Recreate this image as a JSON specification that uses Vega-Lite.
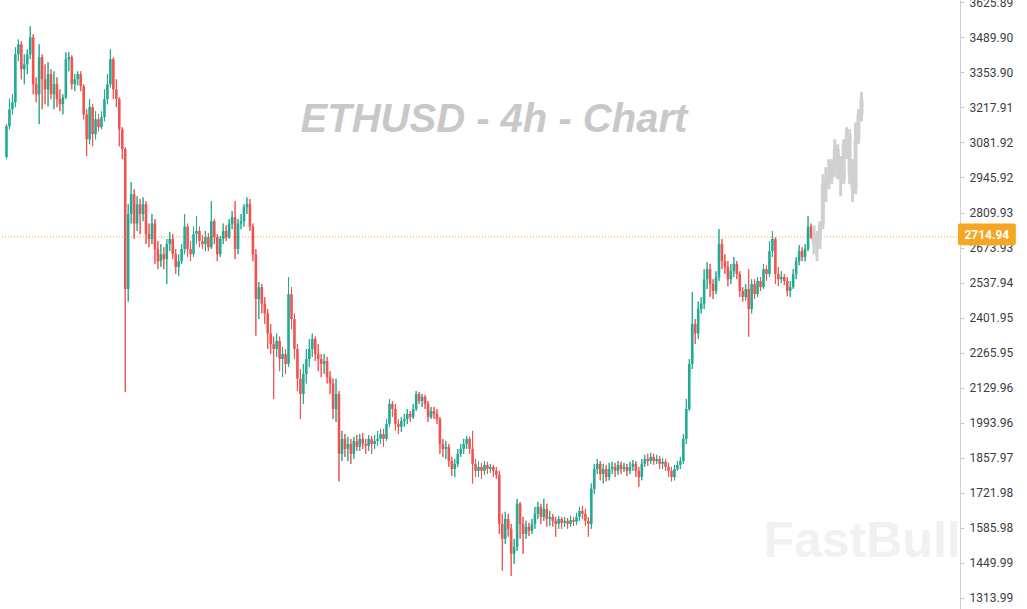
{
  "$schema": "https://vega.github.io/schema/vega-lite/v6.json",
  "width": 960,
  "height": 609,
  "autosize": {"type": "none"},
  "padding": {"left": 0, "top": 0, "right": 67, "bottom": 0},
  "background": "#ffffff",
  "config": {"view": {"stroke": null}},
  "resolve": {"axis": {"x": "independent", "y": "independent"}},
  "datasets": {
    "real": [
      {"t":0,"o":3025,"h":3153,"l":3017,"c":3145},{"t":1,"o":3145,"h":3250,"l":3133,"c":3211},{"t":2,"o":3211,"h":3269,"l":3191,"c":3238},{"t":3,"o":3238,"h":3451,"l":3219,"c":3424},{"t":4,"o":3424,"h":3482,"l":3397,"c":3463},{"t":5,"o":3463,"h":3475,"l":3327,"c":3366},{"t":6,"o":3366,"h":3424,"l":3308,"c":3385},{"t":7,"o":3385,"h":3444,"l":3347,"c":3424},{"t":8,"o":3424,"h":3533,"l":3405,"c":3490},{"t":9,"o":3490,"h":3502,"l":3269,"c":3308},
      {"t":10,"o":3308,"h":3335,"l":3238,"c":3269},{"t":11,"o":3269,"h":3463,"l":3153,"c":3413},{"t":12,"o":3413,"h":3424,"l":3211,"c":3327},{"t":13,"o":3327,"h":3385,"l":3230,"c":3288},{"t":14,"o":3288,"h":3393,"l":3222,"c":3347},{"t":15,"o":3347,"h":3366,"l":3250,"c":3269},{"t":16,"o":3269,"h":3358,"l":3211,"c":3308},{"t":17,"o":3308,"h":3335,"l":3219,"c":3250},{"t":18,"o":3250,"h":3288,"l":3203,"c":3230},{"t":19,"o":3230,"h":3269,"l":3191,"c":3257},
      {"t":20,"o":3257,"h":3432,"l":3250,"c":3405},{"t":21,"o":3405,"h":3432,"l":3358,"c":3413},{"t":22,"o":3413,"h":3420,"l":3288,"c":3308},{"t":23,"o":3308,"h":3347,"l":3281,"c":3327},{"t":24,"o":3327,"h":3358,"l":3304,"c":3347},{"t":25,"o":3347,"h":3358,"l":3281,"c":3300},{"t":26,"o":3300,"h":3308,"l":3172,"c":3191},{"t":27,"o":3191,"h":3211,"l":3029,"c":3094},{"t":28,"o":3094,"h":3250,"l":3075,"c":3219},{"t":29,"o":3219,"h":3230,"l":3067,"c":3114},
      {"t":30,"o":3114,"h":3203,"l":3094,"c":3172},{"t":31,"o":3172,"h":3191,"l":3125,"c":3141},{"t":32,"o":3141,"h":3203,"l":3133,"c":3180},{"t":33,"o":3180,"h":3288,"l":3164,"c":3250},{"t":34,"o":3250,"h":3347,"l":3230,"c":3308},{"t":35,"o":3308,"h":3444,"l":3296,"c":3405},{"t":36,"o":3405,"h":3413,"l":3250,"c":3288},{"t":37,"o":3288,"h":3327,"l":3219,"c":3250},{"t":38,"o":3250,"h":3257,"l":3067,"c":3133},{"t":39,"o":3133,"h":3141,"l":3017,"c":3056},
      {"t":40,"o":3056,"h":3063,"l":2113,"c":2513},{"t":41,"o":2513,"h":2842,"l":2464,"c":2804},{"t":42,"o":2804,"h":2928,"l":2767,"c":2881},{"t":43,"o":2881,"h":2900,"l":2707,"c":2767},{"t":44,"o":2767,"h":2873,"l":2738,"c":2842},{"t":45,"o":2842,"h":2862,"l":2726,"c":2804},{"t":46,"o":2804,"h":2869,"l":2776,"c":2842},{"t":47,"o":2842,"h":2854,"l":2687,"c":2726},{"t":48,"o":2726,"h":2767,"l":2675,"c":2707},{"t":49,"o":2707,"h":2804,"l":2687,"c":2767},
      {"t":50,"o":2767,"h":2784,"l":2610,"c":2668},{"t":51,"o":2668,"h":2699,"l":2590,"c":2621},{"t":52,"o":2621,"h":2687,"l":2598,"c":2648},{"t":53,"o":2648,"h":2675,"l":2590,"c":2629},{"t":54,"o":2629,"h":2707,"l":2532,"c":2687},{"t":55,"o":2687,"h":2734,"l":2660,"c":2707},{"t":56,"o":2707,"h":2726,"l":2629,"c":2648},{"t":57,"o":2648,"h":2668,"l":2571,"c":2598},{"t":58,"o":2598,"h":2648,"l":2563,"c":2621},{"t":59,"o":2621,"h":2687,"l":2610,"c":2668},
      {"t":60,"o":2668,"h":2804,"l":2648,"c":2755},{"t":61,"o":2755,"h":2767,"l":2637,"c":2668},{"t":62,"o":2668,"h":2699,"l":2621,"c":2648},{"t":63,"o":2648,"h":2755,"l":2637,"c":2726},{"t":64,"o":2726,"h":2796,"l":2687,"c":2738},{"t":65,"o":2738,"h":2755,"l":2675,"c":2699},{"t":66,"o":2699,"h":2722,"l":2668,"c":2687},{"t":67,"o":2687,"h":2738,"l":2660,"c":2714},{"t":68,"o":2714,"h":2730,"l":2660,"c":2675},{"t":69,"o":2675,"h":2854,"l":2668,"c":2776},
      {"t":70,"o":2776,"h":2784,"l":2687,"c":2714},{"t":71,"o":2714,"h":2726,"l":2621,"c":2648},{"t":72,"o":2648,"h":2718,"l":2637,"c":2707},{"t":73,"o":2707,"h":2767,"l":2687,"c":2738},{"t":74,"o":2738,"h":2760,"l":2699,"c":2714},{"t":75,"o":2714,"h":2784,"l":2707,"c":2767},{"t":76,"o":2767,"h":2815,"l":2745,"c":2792},{"t":77,"o":2792,"h":2854,"l":2629,"c":2668},{"t":78,"o":2668,"h":2784,"l":2648,"c":2767},{"t":79,"o":2767,"h":2804,"l":2745,"c":2776},
      {"t":80,"o":2776,"h":2842,"l":2755,"c":2831},{"t":81,"o":2831,"h":2869,"l":2804,"c":2842},{"t":82,"o":2842,"h":2862,"l":2738,"c":2755},{"t":83,"o":2755,"h":2767,"l":2621,"c":2648},{"t":84,"o":2648,"h":2668,"l":2332,"c":2474},{"t":85,"o":2474,"h":2540,"l":2396,"c":2520},{"t":86,"o":2520,"h":2532,"l":2418,"c":2456},{"t":87,"o":2456,"h":2482,"l":2377,"c":2418},{"t":88,"o":2418,"h":2435,"l":2280,"c":2340},{"t":89,"o":2340,"h":2377,"l":2260,"c":2299},
      {"t":90,"o":2299,"h":2328,"l":2086,"c":2280},{"t":91,"o":2280,"h":2340,"l":2249,"c":2311},{"t":92,"o":2311,"h":2328,"l":2194,"c":2241},{"t":93,"o":2241,"h":2288,"l":2171,"c":2260},{"t":94,"o":2260,"h":2280,"l":2183,"c":2222},{"t":95,"o":2222,"h":2559,"l":2210,"c":2493},{"t":96,"o":2493,"h":2520,"l":2357,"c":2396},{"t":97,"o":2396,"h":2418,"l":2241,"c":2280},{"t":98,"o":2280,"h":2299,"l":2117,"c":2165},{"t":99,"o":2165,"h":2202,"l":2008,"c":2105},
      {"t":100,"o":2105,"h":2222,"l":2067,"c":2183},{"t":101,"o":2183,"h":2280,"l":2146,"c":2241},{"t":102,"o":2241,"h":2319,"l":2210,"c":2280},{"t":103,"o":2280,"h":2340,"l":2249,"c":2319},{"t":104,"o":2319,"h":2328,"l":2233,"c":2260},{"t":105,"o":2260,"h":2299,"l":2194,"c":2241},{"t":106,"o":2241,"h":2260,"l":2171,"c":2222},{"t":107,"o":2222,"h":2260,"l":2183,"c":2233},{"t":108,"o":2233,"h":2249,"l":2146,"c":2171},{"t":109,"o":2171,"h":2194,"l":2105,"c":2146},
      {"t":110,"o":2146,"h":2165,"l":2008,"c":2047},{"t":111,"o":2047,"h":2165,"l":1997,"c":2105},{"t":112,"o":2105,"h":2117,"l":1766,"c":1873},{"t":113,"o":1873,"h":1962,"l":1845,"c":1931},{"t":114,"o":1931,"h":1950,"l":1861,"c":1892},{"t":115,"o":1892,"h":1939,"l":1845,"c":1911},{"t":116,"o":1911,"h":1931,"l":1834,"c":1873},{"t":117,"o":1873,"h":1939,"l":1853,"c":1923},{"t":118,"o":1923,"h":1946,"l":1884,"c":1900},{"t":119,"o":1900,"h":1950,"l":1884,"c":1931},
      {"t":120,"o":1931,"h":1954,"l":1892,"c":1911},{"t":121,"o":1911,"h":1931,"l":1873,"c":1904},{"t":122,"o":1904,"h":1946,"l":1884,"c":1931},{"t":123,"o":1931,"h":1942,"l":1873,"c":1911},{"t":124,"o":1911,"h":1946,"l":1892,"c":1923},{"t":125,"o":1923,"h":1962,"l":1904,"c":1931},{"t":126,"o":1931,"h":1970,"l":1911,"c":1950},{"t":127,"o":1950,"h":1970,"l":1900,"c":1931},{"t":128,"o":1931,"h":2008,"l":1923,"c":1989},{"t":129,"o":1989,"h":2086,"l":1978,"c":2067},
      {"t":130,"o":2067,"h":2078,"l":2016,"c":2047},{"t":131,"o":2047,"h":2067,"l":1962,"c":1989},{"t":132,"o":1989,"h":2008,"l":1950,"c":1978},{"t":133,"o":1978,"h":2016,"l":1958,"c":2001},{"t":134,"o":2001,"h":2028,"l":1978,"c":2008},{"t":135,"o":2008,"h":2047,"l":1989,"c":2028},{"t":136,"o":2028,"h":2039,"l":1997,"c":2016},{"t":137,"o":2016,"h":2067,"l":2008,"c":2047},{"t":138,"o":2047,"h":2117,"l":2039,"c":2105},{"t":139,"o":2105,"h":2113,"l":2067,"c":2078},
      {"t":140,"o":2078,"h":2105,"l":2055,"c":2094},{"t":141,"o":2094,"h":2102,"l":2047,"c":2067},{"t":142,"o":2067,"h":2078,"l":1997,"c":2016},{"t":143,"o":2016,"h":2055,"l":2008,"c":2039},{"t":144,"o":2039,"h":2055,"l":2008,"c":2028},{"t":145,"o":2028,"h":2047,"l":1989,"c":2008},{"t":146,"o":2008,"h":2016,"l":1873,"c":1911},{"t":147,"o":1911,"h":1931,"l":1861,"c":1892},{"t":148,"o":1892,"h":1923,"l":1853,"c":1900},{"t":149,"o":1900,"h":1911,"l":1822,"c":1845},
      {"t":150,"o":1845,"h":1861,"l":1787,"c":1814},{"t":151,"o":1814,"h":1853,"l":1783,"c":1834},{"t":152,"o":1834,"h":1892,"l":1822,"c":1873},{"t":153,"o":1873,"h":1911,"l":1861,"c":1892},{"t":154,"o":1892,"h":1931,"l":1873,"c":1911},{"t":155,"o":1911,"h":1942,"l":1892,"c":1931},{"t":156,"o":1931,"h":1939,"l":1873,"c":1892},{"t":157,"o":1892,"h":1962,"l":1758,"c":1834},{"t":158,"o":1834,"h":1853,"l":1783,"c":1807},{"t":159,"o":1807,"h":1845,"l":1783,"c":1822},
      {"t":160,"o":1822,"h":1838,"l":1776,"c":1807},{"t":161,"o":1807,"h":1845,"l":1791,"c":1830},{"t":162,"o":1830,"h":1842,"l":1795,"c":1814},{"t":163,"o":1814,"h":1834,"l":1799,"c":1822},{"t":164,"o":1822,"h":1830,"l":1783,"c":1807},{"t":165,"o":1807,"h":1822,"l":1776,"c":1791},{"t":166,"o":1791,"h":1807,"l":1562,"c":1601},{"t":167,"o":1601,"h":1640,"l":1419,"c":1543},{"t":168,"o":1543,"h":1648,"l":1523,"c":1620},{"t":169,"o":1620,"h":1640,"l":1551,"c":1582},
      {"t":170,"o":1582,"h":1601,"l":1399,"c":1485},{"t":171,"o":1485,"h":1543,"l":1446,"c":1512},{"t":172,"o":1512,"h":1698,"l":1496,"c":1679},{"t":173,"o":1679,"h":1686,"l":1543,"c":1601},{"t":174,"o":1601,"h":1628,"l":1485,"c":1562},{"t":175,"o":1562,"h":1613,"l":1543,"c":1590},{"t":176,"o":1590,"h":1605,"l":1554,"c":1574},{"t":177,"o":1574,"h":1620,"l":1562,"c":1601},{"t":178,"o":1601,"h":1667,"l":1582,"c":1640},{"t":179,"o":1640,"h":1686,"l":1620,"c":1667},
      {"t":180,"o":1667,"h":1679,"l":1601,"c":1628},{"t":181,"o":1628,"h":1698,"l":1613,"c":1659},{"t":182,"o":1659,"h":1679,"l":1590,"c":1620},{"t":183,"o":1620,"h":1651,"l":1593,"c":1628},{"t":184,"o":1628,"h":1640,"l":1590,"c":1613},{"t":185,"o":1613,"h":1628,"l":1551,"c":1601},{"t":186,"o":1601,"h":1632,"l":1582,"c":1620},{"t":187,"o":1620,"h":1628,"l":1582,"c":1605},{"t":188,"o":1605,"h":1628,"l":1590,"c":1613},{"t":189,"o":1613,"h":1624,"l":1582,"c":1601},
      {"t":190,"o":1601,"h":1632,"l":1590,"c":1616},{"t":191,"o":1616,"h":1628,"l":1593,"c":1609},{"t":192,"o":1609,"h":1644,"l":1597,"c":1628},{"t":193,"o":1628,"h":1667,"l":1613,"c":1651},{"t":194,"o":1651,"h":1671,"l":1620,"c":1640},{"t":195,"o":1640,"h":1659,"l":1593,"c":1613},{"t":196,"o":1613,"h":1628,"l":1551,"c":1601},{"t":197,"o":1601,"h":1758,"l":1582,"c":1737},{"t":198,"o":1737,"h":1834,"l":1717,"c":1814},{"t":199,"o":1814,"h":1853,"l":1795,"c":1834},
      {"t":200,"o":1834,"h":1845,"l":1770,"c":1795},{"t":201,"o":1795,"h":1834,"l":1758,"c":1814},{"t":202,"o":1814,"h":1830,"l":1766,"c":1783},{"t":203,"o":1783,"h":1838,"l":1770,"c":1814},{"t":204,"o":1814,"h":1842,"l":1795,"c":1822},{"t":205,"o":1822,"h":1838,"l":1783,"c":1807},{"t":206,"o":1807,"h":1845,"l":1791,"c":1830},{"t":207,"o":1830,"h":1842,"l":1795,"c":1814},{"t":208,"o":1814,"h":1838,"l":1803,"c":1822},{"t":209,"o":1822,"h":1834,"l":1787,"c":1807},
      {"t":210,"o":1807,"h":1842,"l":1795,"c":1822},{"t":211,"o":1822,"h":1849,"l":1807,"c":1834},{"t":212,"o":1834,"h":1845,"l":1783,"c":1807},{"t":213,"o":1807,"h":1822,"l":1745,"c":1783},{"t":214,"o":1783,"h":1853,"l":1770,"c":1834},{"t":215,"o":1834,"h":1869,"l":1822,"c":1853},{"t":216,"o":1853,"h":1873,"l":1826,"c":1845},{"t":217,"o":1845,"h":1877,"l":1834,"c":1861},{"t":218,"o":1861,"h":1873,"l":1830,"c":1845},{"t":219,"o":1845,"h":1869,"l":1834,"c":1853},
      {"t":220,"o":1853,"h":1865,"l":1814,"c":1834},{"t":221,"o":1834,"h":1857,"l":1814,"c":1842},{"t":222,"o":1842,"h":1853,"l":1807,"c":1822},{"t":223,"o":1822,"h":1838,"l":1783,"c":1807},{"t":224,"o":1807,"h":1822,"l":1766,"c":1783},{"t":225,"o":1783,"h":1830,"l":1770,"c":1814},{"t":226,"o":1814,"h":1845,"l":1807,"c":1830},{"t":227,"o":1830,"h":1861,"l":1814,"c":1845},{"t":228,"o":1845,"h":1950,"l":1834,"c":1931},{"t":229,"o":1931,"h":2086,"l":1911,"c":2047},
      {"t":230,"o":2047,"h":2241,"l":2039,"c":2222},{"t":231,"o":2222,"h":2501,"l":2202,"c":2377},{"t":232,"o":2377,"h":2396,"l":2299,"c":2340},{"t":233,"o":2340,"h":2464,"l":2319,"c":2435},{"t":234,"o":2435,"h":2482,"l":2418,"c":2456},{"t":235,"o":2456,"h":2590,"l":2435,"c":2551},{"t":236,"o":2551,"h":2617,"l":2513,"c":2590},{"t":237,"o":2590,"h":2610,"l":2482,"c":2532},{"t":238,"o":2532,"h":2551,"l":2474,"c":2505},{"t":239,"o":2505,"h":2582,"l":2493,"c":2559},
      {"t":240,"o":2559,"h":2745,"l":2544,"c":2687},{"t":241,"o":2687,"h":2707,"l":2590,"c":2621},{"t":242,"o":2621,"h":2648,"l":2571,"c":2598},{"t":243,"o":2598,"h":2621,"l":2524,"c":2551},{"t":244,"o":2551,"h":2610,"l":2532,"c":2582},{"t":245,"o":2582,"h":2637,"l":2559,"c":2610},{"t":246,"o":2610,"h":2621,"l":2551,"c":2571},{"t":247,"o":2571,"h":2582,"l":2482,"c":2505},{"t":248,"o":2505,"h":2520,"l":2464,"c":2482},{"t":249,"o":2482,"h":2532,"l":2468,"c":2513},
      {"t":250,"o":2513,"h":2590,"l":2328,"c":2435},{"t":251,"o":2435,"h":2551,"l":2418,"c":2532},{"t":252,"o":2532,"h":2551,"l":2474,"c":2493},{"t":253,"o":2493,"h":2559,"l":2482,"c":2544},{"t":254,"o":2544,"h":2559,"l":2505,"c":2520},{"t":255,"o":2520,"h":2610,"l":2513,"c":2590},{"t":256,"o":2590,"h":2605,"l":2544,"c":2571},{"t":257,"o":2571,"h":2699,"l":2559,"c":2660},{"t":258,"o":2660,"h":2738,"l":2637,"c":2707},{"t":259,"o":2707,"h":2714,"l":2532,"c":2571},
      {"t":260,"o":2571,"h":2598,"l":2524,"c":2551},{"t":261,"o":2551,"h":2582,"l":2536,"c":2559},{"t":262,"o":2559,"h":2571,"l":2528,"c":2544},{"t":263,"o":2544,"h":2559,"l":2485,"c":2505},{"t":264,"o":2505,"h":2544,"l":2482,"c":2520},{"t":265,"o":2520,"h":2590,"l":2513,"c":2571},{"t":266,"o":2571,"h":2637,"l":2551,"c":2621},{"t":267,"o":2621,"h":2683,"l":2605,"c":2660},{"t":268,"o":2660,"h":2675,"l":2621,"c":2637},{"t":269,"o":2637,"h":2687,"l":2621,"c":2668},
      {"t":270,"o":2668,"h":2796,"l":2660,"c":2755},{"t":271,"o":2755,"h":2767,"l":2707,"c":2715}
    ],
    "proj": [
      {"t":272,"o":2715,"h":2760,"l":2648,"c":2687},{"t":273,"o":2687,"h":2738,"l":2621,"c":2707},{"t":274,"o":2707,"h":2776,"l":2668,"c":2767},{"t":275,"o":2767,"h":2959,"l":2745,"c":2920},{"t":276,"o":2920,"h":2986,"l":2850,"c":2939},{"t":277,"o":2939,"h":3017,"l":2900,"c":2959},{"t":278,"o":2959,"h":3017,"l":2920,"c":2998},{"t":279,"o":2998,"h":3094,"l":2947,"c":3056},{"t":280,"o":3056,"h":3075,"l":2939,"c":2978},
      {"t":281,"o":2978,"h":3029,"l":2873,"c":2939},{"t":282,"o":2939,"h":3094,"l":2920,"c":3075},{"t":283,"o":3075,"h":3141,"l":3017,"c":3114},{"t":284,"o":3114,"h":3133,"l":2920,"c":2959},{"t":285,"o":2959,"h":3017,"l":2850,"c":2900},{"t":286,"o":2900,"h":3160,"l":2881,"c":3094},{"t":287,"o":3094,"h":3211,"l":3075,"c":3191},{"t":288,"o":3191,"h":3277,"l":3164,"c":3250}
    ]
  },
  "layer": [
    {
      "data": {"name": "real"},
      "mark": {"type": "rule", "strokeWidth": 1},
      "encoding": {
        "x": {"field": "t", "type": "quantitative", "scale": {"domain": [-0.5, 319.5], "nice": false, "zero": false}, "axis": null},
        "y": {
          "field": "l", "type": "quantitative",
          "scale": {"domain": [1270.5, 3635], "nice": false, "zero": false},
          "axis": {
            "orient": "right", "title": null, "grid": false,
            "values": [1313.99, 1449.99, 1585.98, 1721.98, 1857.97, 1993.96, 2129.96, 2265.95, 2401.95, 2537.94, 2673.93, 2809.93, 2945.92, 3081.92, 3217.91, 3353.9, 3489.9, 3625.89],
            "format": ".2f", "labelFont": "Roboto", "labelFontSize": 12, "labelColor": "#3a3d45",
            "labelPadding": 5, "tickSize": 4, "tickColor": "#c8c8c8", "domainColor": "#d0d0d0",
            "labelOverlap": false, "labelBound": false, "labelFlush": false, "zindex": 0
          }
        },
        "y2": {"field": "h"},
        "color": {"condition": {"test": "datum.c >= datum.o", "value": "#22ab94"}, "value": "#f05350"}
      }
    },
    {
      "data": {"values": [{"label": "FastBull"}]},
      "mark": {"type": "text", "font": "Liberation Sans", "fontSize": 50, "fontWeight": "bold", "color": "#f1f1f1", "align": "center", "baseline": "middle"},
      "encoding": {
        "x": {"datum": 288.2, "type": "quantitative", "axis": null},
        "y": {"datum": 1531, "type": "quantitative", "axis": null},
        "text": {"field": "label"}
      }
    },
    {
      "data": {"values": [{"label": "ETHUSD - 4h - Chart"}]},
      "mark": {"type": "text", "font": "Liberation Sans", "fontSize": 40, "fontWeight": "bold", "fontStyle": "italic", "color": "#c8c8c8", "align": "center", "baseline": "middle"},
      "encoding": {
        "x": {"datum": 164.2, "type": "quantitative", "axis": null},
        "y": {"datum": 3168, "type": "quantitative", "axis": null},
        "text": {"field": "label"}
      }
    },
    {
      "data": {"values": [{"p": 2714.94}]},
      "mark": {"type": "rule", "color": "#eea23a", "strokeDash": [1, 2], "strokeWidth": 1},
      "encoding": {"y": {"field": "p", "type": "quantitative", "axis": null}}
    },
    {
      "data": {"name": "real"},
      "mark": {"type": "rule", "strokeWidth": 1},
      "encoding": {
        "x": {"field": "t", "type": "quantitative", "axis": null},
        "y": {"field": "l", "type": "quantitative", "axis": null},
        "y2": {"field": "h"},
        "color": {"condition": {"test": "datum.c >= datum.o", "value": "#22ab94"}, "value": "#f05350"}
      }
    },
    {
      "data": {"name": "real"},
      "mark": {"type": "bar", "width": 2.6},
      "encoding": {
        "x": {"field": "t", "type": "quantitative", "axis": null},
        "y": {"field": "o", "type": "quantitative", "axis": null},
        "y2": {"field": "c"},
        "color": {"condition": {"test": "datum.c >= datum.o", "value": "#22ab94"}, "value": "#f05350"}
      }
    },
    {
      "data": {"name": "proj"},
      "mark": {"type": "rule", "strokeWidth": 3, "color": "#d0d0d0"},
      "encoding": {
        "x": {"field": "t", "type": "quantitative", "axis": null},
        "y": {"field": "l", "type": "quantitative", "axis": null},
        "y2": {"field": "h"}
      }
    },
    {
      "data": {"name": "proj"},
      "mark": {"type": "bar", "width": 4, "color": "#d0d0d0"},
      "encoding": {
        "x": {"field": "t", "type": "quantitative", "axis": null},
        "y": {"field": "o", "type": "quantitative", "axis": null},
        "y2": {"field": "c"}
      }
    },
    {
      "data": {"values": [{"x1": 320.5, "x2": 340, "y1": 2767, "y2": 2683}]},
      "mark": {"type": "rect", "color": "#f5a623", "cornerRadius": 2},
      "encoding": {
        "x": {"field": "x1", "type": "quantitative", "axis": null},
        "x2": {"field": "x2"},
        "y": {"field": "y1", "type": "quantitative", "axis": null},
        "y2": {"field": "y2"}
      }
    },
    {
      "data": {"values": [{"x": 330.2, "y": 2722, "label": "2714.94"}]},
      "mark": {"type": "text", "font": "Roboto", "fontSize": 12, "fontWeight": "bold", "color": "#ffffff", "align": "center", "baseline": "middle"},
      "encoding": {
        "x": {"field": "x", "type": "quantitative", "axis": null},
        "y": {"field": "y", "type": "quantitative", "axis": null},
        "text": {"field": "label"}
      }
    }
  ]
}
